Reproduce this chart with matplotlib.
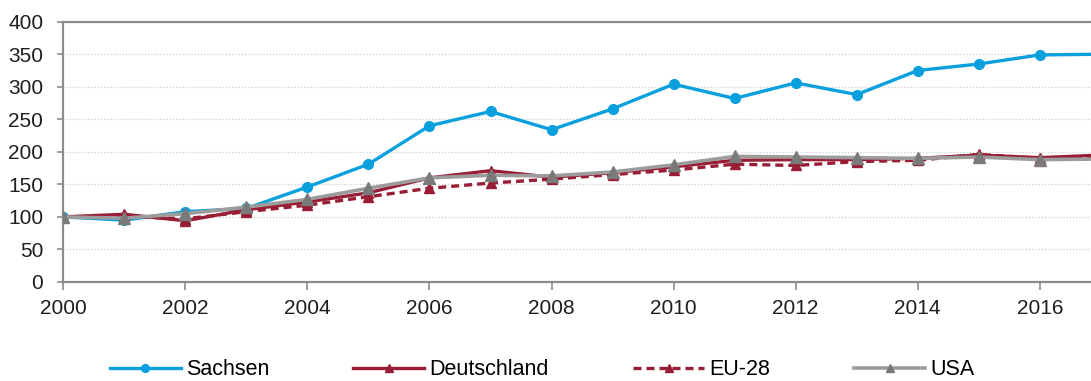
import matplotlib
matplotlib.use("Agg")
import matplotlib.pyplot as plt

years = list(range(2000, 2018))
sachsen = [100, 95, 108, 113, 146, 181, 240, 262, 234, 266, 304, 282, 306, 288, 325, 335, 349, 350]
deutschland = [100, 104, 94, 111, 123, 137, 160, 171, 161, 168, 177, 187, 188, 188, 190, 195, 191, 195]
eu28 = [100, 101, 97, 108, 118, 131, 144, 152, 158, 165, 172, 181, 179, 185, 187, 196, 190, 193]
usa = [100, 98, 105, 115, 127, 144, 160, 164, 163, 169, 180, 193, 192, 191, 190, 192, 188, 189]
series_labels = ["Sachsen", "Deutschland", "EU-28", "USA"]
x_ticks = list(range(2000, 2017, 2))
y_ticks = list(range(0, 401, 50))

plt.rcParams["font.family"] = ["Liberation Sans", "DejaVu Sans"]

blue = "#0a9fdd"
red = "#981d35"
grey_line = "#9c9c9c"
grey_mark = "#7a7a7a"
spine = "#8c8c8c"

fig = plt.figure(figsize=(10.91, 3.81), dpi=100)
ax = fig.add_axes([0.058, 0.26, 0.951, 0.683])

ax.plot(years, sachsen, color=blue, lw=2.4, marker="o", ms=7, label=series_labels[0], zorder=3)
ax.plot(years, deutschland, color=red, lw=2.4, marker="^", ms=7.5, label=series_labels[1], zorder=4)
ax.plot(years, eu28, color=red, lw=2.4, ls=(0, (2.4, 1.5)), marker="^", ms=7.5, label=series_labels[2], zorder=3.5)
ax.plot(years, usa, color=grey_line, lw=2.6, marker="^", ms=8, mfc=grey_mark, mec=grey_mark,
        label=series_labels[3], zorder=5)

ax.set_xlim(2000, 2017)
ax.set_ylim(0, 400)
ax.set_xticks(x_ticks)
ax.set_yticks(y_ticks)
ax.tick_params(axis="both", labelsize=15, colors=spine, labelcolor="#1e1e1e", direction="out", width=1.2)
ax.tick_params(axis="x", length=6, pad=6)
ax.tick_params(axis="y", length=4.5, pad=10)

ax.yaxis.grid(True, color="#cfcfcf", ls=(0, (1, 1.5)), lw=0.9)
ax.set_axisbelow(True)
for side in ["left", "bottom", "top"]:
    ax.spines[side].set_color(spine)
    ax.spines[side].set_linewidth(1.6)
ax.spines["right"].set_visible(False)

fig.legend(loc="center", bbox_to_anchor=(0.497, 0.03), ncol=4, frameon=False, fontsize=15.5,
           handlelength=3.3, handletextpad=0.25, columnspacing=3.9, markerscale=0.8)

fig.savefig("out.png", dpi=100)
